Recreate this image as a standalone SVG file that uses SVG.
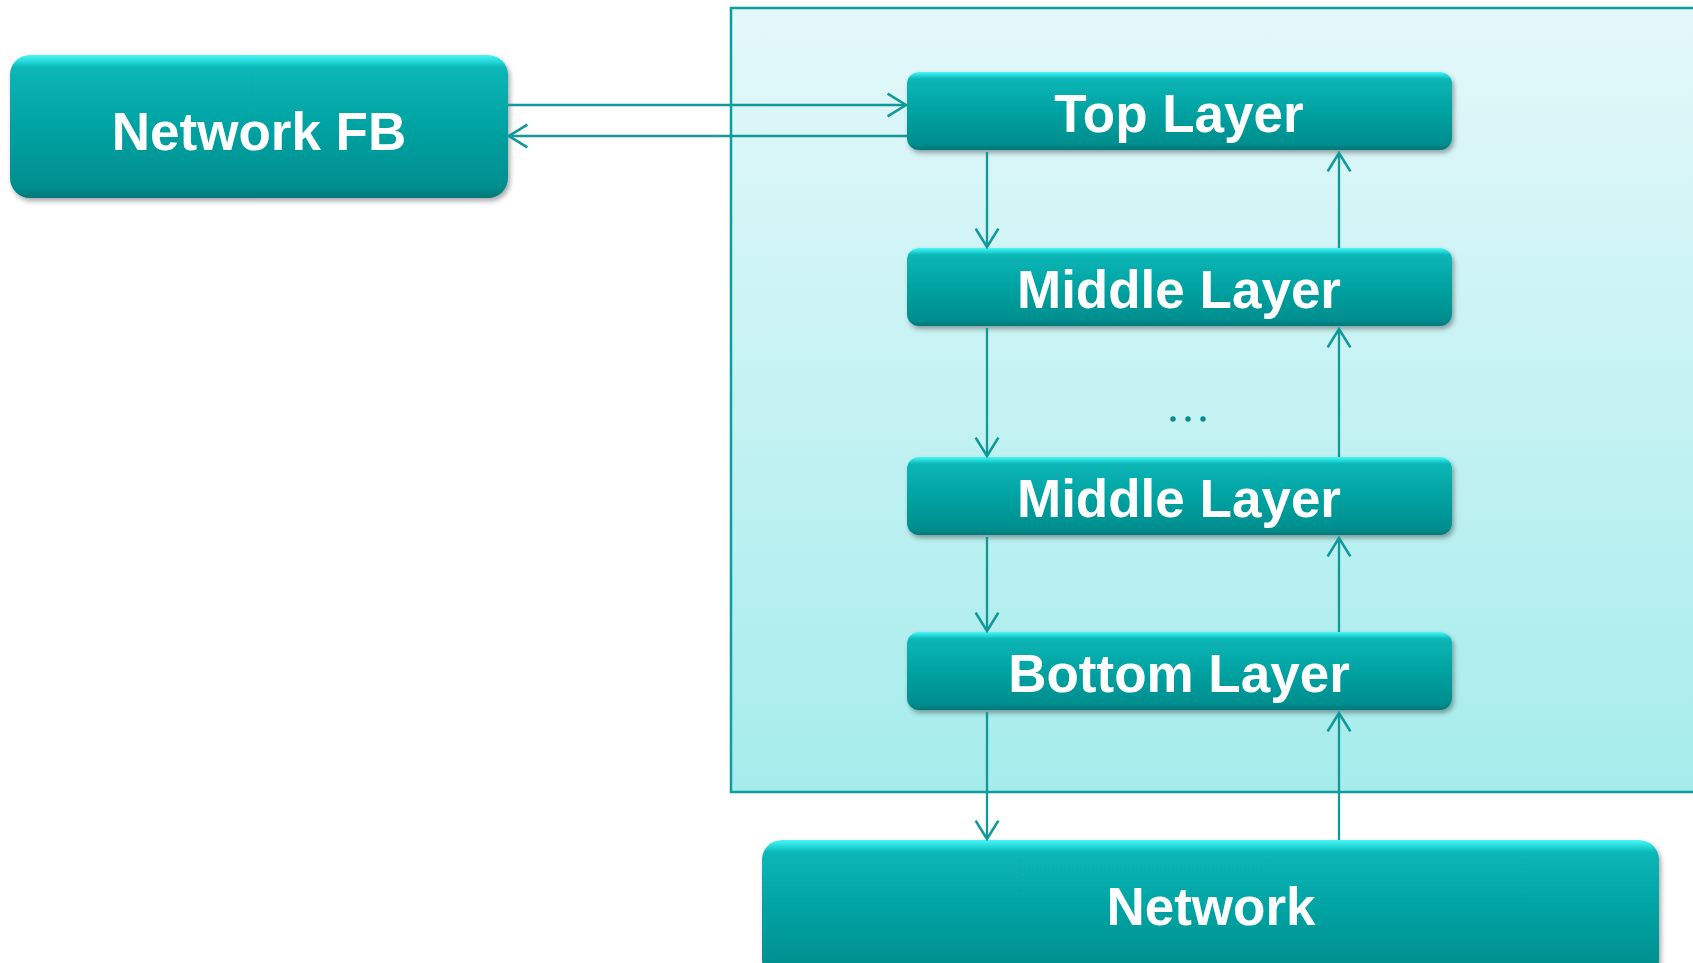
<svg xmlns="http://www.w3.org/2000/svg" width="1693" height="963" viewBox="0 0 1693 963">
  <defs>
    <linearGradient id="panelFill" x1="0" y1="0" x2="0" y2="1">
      <stop offset="0" stop-color="#e4f8fa"/>
      <stop offset="1" stop-color="#a6ecec"/>
    </linearGradient>
    <linearGradient id="boxFill" x1="0" y1="0" x2="0" y2="1">
      <stop offset="0" stop-color="#4af6f6"/>
      <stop offset="0.035" stop-color="#2ce0e0"/>
      <stop offset="0.09" stop-color="#07b6b6"/>
      <stop offset="0.92" stop-color="#058e8e"/>
      <stop offset="1" stop-color="#06777a"/>
    </linearGradient>
    <filter id="boxShadow" x="-5%" y="-10%" width="112%" height="130%">
      <feDropShadow dx="2" dy="3" stdDeviation="2.5" flood-color="#000" flood-opacity="0.35"/>
    </filter>
    <marker id="arrow" markerUnits="userSpaceOnUse" markerWidth="22" markerHeight="26" viewBox="0 0 19 24" refX="17.5" refY="12" orient="auto">
      <path d="M0.5,1.5 L17.5,12 L0.5,22.5" fill="none" stroke="#119898" stroke-width="2.4"/>
    </marker>
  </defs>
  <style>
    .box { fill: url(#boxFill); filter: url(#boxShadow); }
    .label { font-family: "Liberation Sans", Arial, sans-serif; font-weight: bold; font-size: 53px; fill: #ffffff; text-anchor: middle; }
    .link { stroke: #119898; stroke-width: 2.3; fill: none; marker-end: url(#arrow); }
  </style>

  <rect width="1693" height="963" fill="#ffffff"/>

  <!-- protocol stack container -->
  <g id="stack-panel">
    <rect x="731" y="8" width="975" height="784" fill="url(#panelFill)" stroke="#0a9e9e" stroke-width="2.5"/>
  </g>

  <g id="network-fb">
    <rect class="box" x="10" y="55" width="498" height="143" rx="20"/>
    <text class="label" x="259" y="150">Network FB</text>
  </g>

  <g id="top-layer">
    <rect class="box" x="907" y="72" width="545" height="78" rx="12"/>
    <text class="label" x="1179" y="132">Top Layer</text>
  </g>

  <g id="middle-layer-1">
    <rect class="box" x="907" y="248" width="545" height="78" rx="12"/>
    <text class="label" x="1179" y="308">Middle Layer</text>
  </g>

  <g id="ellipsis">
    <circle cx="1173" cy="419" r="2.7" fill="#0a8a8a"/>
    <circle cx="1188" cy="419" r="2.7" fill="#0a8a8a"/>
    <circle cx="1203" cy="419" r="2.7" fill="#0a8a8a"/>
  </g>

  <g id="middle-layer-2">
    <rect class="box" x="907" y="457" width="545" height="78" rx="12"/>
    <text class="label" x="1179" y="517">Middle Layer</text>
  </g>

  <g id="bottom-layer">
    <rect class="box" x="907" y="632" width="545" height="78" rx="12"/>
    <text class="label" x="1179" y="692">Bottom Layer</text>
  </g>

  <g id="network">
    <rect class="box" x="762" y="840" width="897" height="140" rx="20"/>
    <text class="label" x="1211" y="925">Network</text>
  </g>

  <g id="connectors">
    <line class="link" x1="508" y1="105" x2="906" y2="105"/>
    <line class="link" x1="907" y1="136" x2="509" y2="136"/>

    <line class="link" x1="987" y1="152" x2="987" y2="247"/>
    <line class="link" x1="1339" y1="248" x2="1339" y2="153"/>

    <line class="link" x1="987" y1="328" x2="987" y2="456"/>
    <line class="link" x1="1339" y1="457" x2="1339" y2="329"/>

    <line class="link" x1="987" y1="537" x2="987" y2="631"/>
    <line class="link" x1="1339" y1="632" x2="1339" y2="538"/>

    <line class="link" x1="987" y1="712" x2="987" y2="839"/>
    <line class="link" x1="1339" y1="840" x2="1339" y2="713"/>
  </g>
</svg>
